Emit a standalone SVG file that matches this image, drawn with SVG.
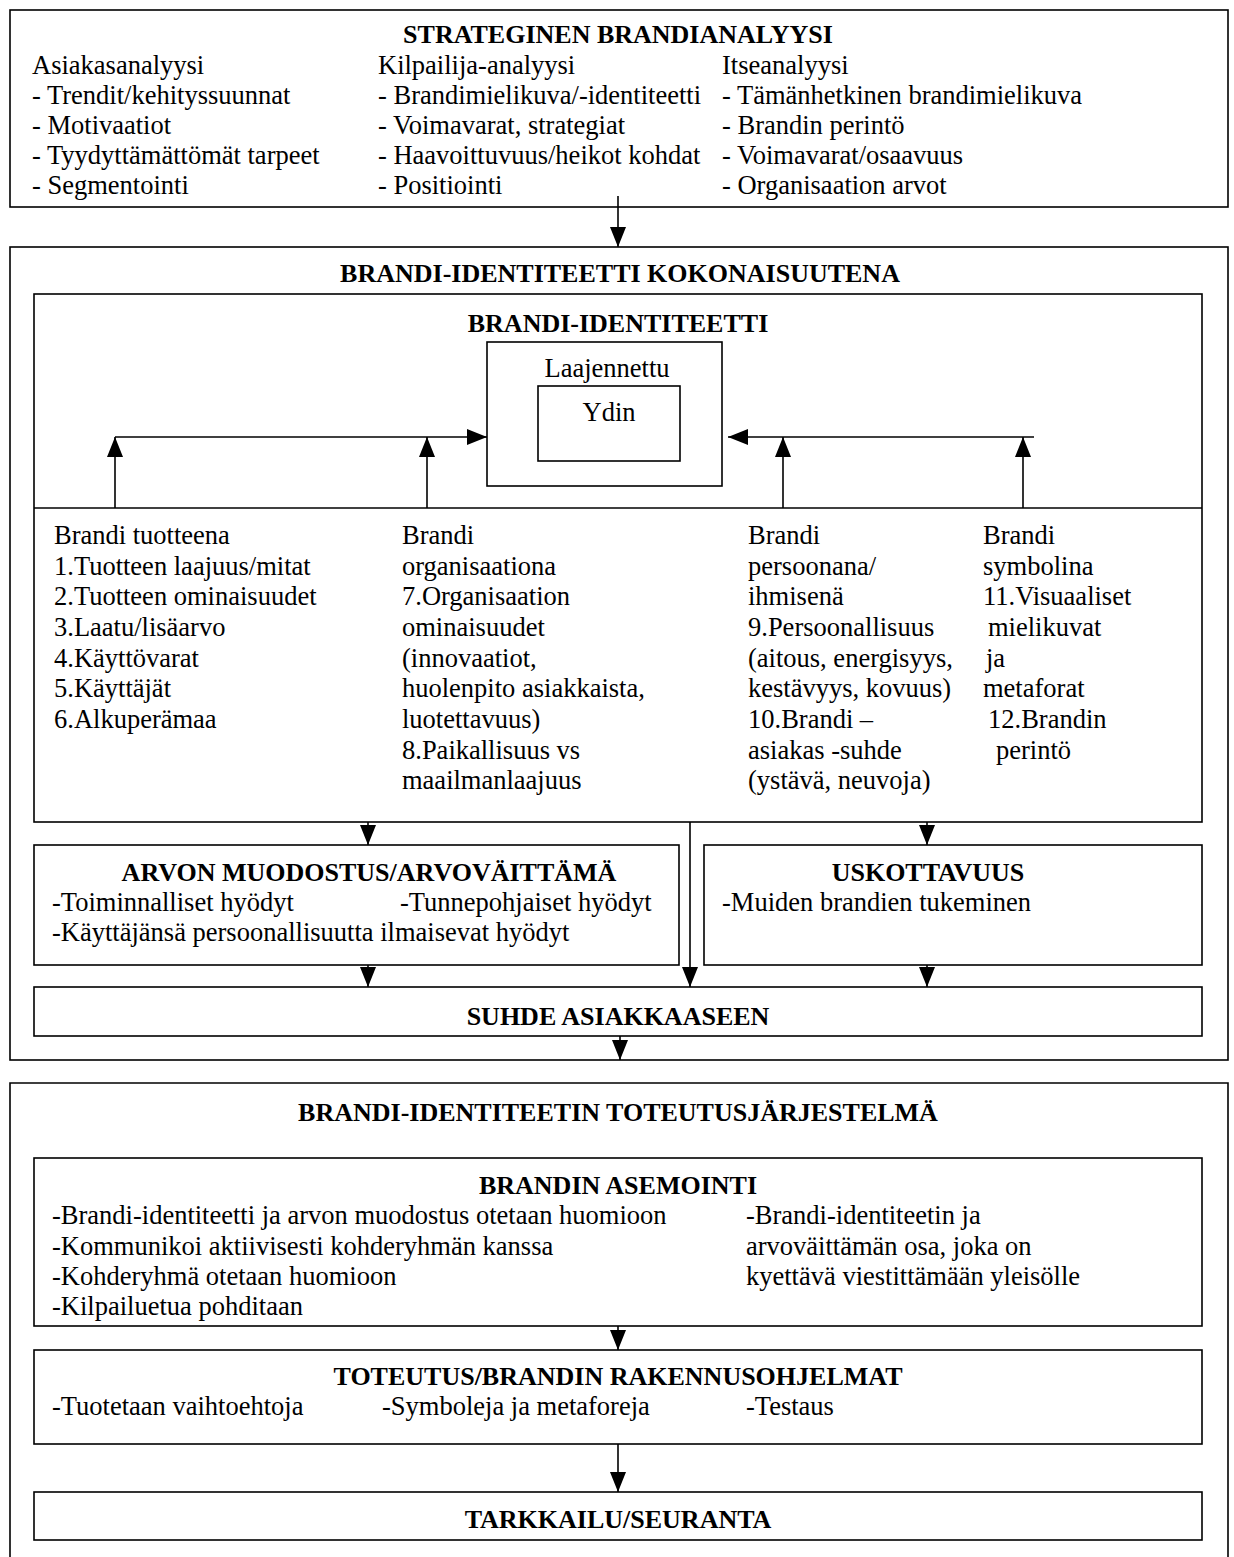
<svg xmlns="http://www.w3.org/2000/svg" width="1234" height="1557" viewBox="0 0 1234 1557">
<style>
.box{fill:none;stroke:#000;stroke-width:1.6}
.t{font-family:"Liberation Serif","Times New Roman",serif;font-size:26.5px;fill:#000}
.b{font-weight:bold;font-size:26px}
.c{text-anchor:middle}
.ln{stroke:#000;stroke-width:1.6;fill:none}
</style>
<defs>
<marker id="ah" viewBox="0 0 20 16" refX="20" refY="8" markerWidth="20" markerHeight="16" markerUnits="userSpaceOnUse" orient="auto"><path d="M0,0 L20,8 L0,16 Z" fill="#000"/></marker>
</defs>
<rect width="1234" height="1557" fill="#fff"/>

<g id="strateginen">
<rect class="box" x="10" y="10" width="1218" height="197"/>
<text class="t b c" x="618" y="43">STRATEGINEN BRANDIANALYYSI</text>
<text class="t" x="32" y="74">Asiakasanalyysi</text>
<text class="t" x="32" y="104">- Trendit/kehityssuunnat</text>
<text class="t" x="32" y="134">- Motivaatiot</text>
<text class="t" x="32" y="164">- Tyydyttämättömät tarpeet</text>
<text class="t" x="32" y="194">- Segmentointi</text>
<text class="t" x="378" y="74">Kilpailija-analyysi</text>
<text class="t" x="378" y="104">- Brandimielikuva/-identiteetti</text>
<text class="t" x="378" y="134">- Voimavarat, strategiat</text>
<text class="t" x="378" y="164">- Haavoittuvuus/heikot kohdat</text>
<text class="t" x="378" y="194">- Positiointi</text>
<text class="t" x="722" y="74">Itseanalyysi</text>
<text class="t" x="722" y="104">- Tämänhetkinen brandimielikuva</text>
<text class="t" x="722" y="134">- Brandin perintö</text>
<text class="t" x="722" y="164">- Voimavarat/osaavuus</text>
<text class="t" x="722" y="194">- Organisaation arvot</text>
</g>

<g id="kokonaisuutena">
<rect class="box" x="10" y="247" width="1218" height="813"/>
<text class="t b c" x="620" y="282">BRANDI-IDENTITEETTI KOKONAISUUTENA</text>
</g>

<g id="brandi-identiteetti">
<rect class="box" x="34" y="294" width="1168" height="528"/>
<line class="ln" x1="34" y1="508" x2="1202" y2="508"/>
<text class="t b c" x="618" y="332">BRANDI-IDENTITEETTI</text>
</g>

<g id="laajennettu">
<rect class="box" x="487" y="342" width="235" height="144"/>
<text class="t c" x="607" y="377">Laajennettu</text>
</g>

<g id="ydin">
<rect class="box" x="538" y="386" width="142" height="75"/>
<text class="t c" x="609" y="421">Ydin</text>
</g>

<g id="tuotteena">
<text class="t" x="54" y="544">Brandi tuotteena</text>
<text class="t" x="54" y="575">1.Tuotteen laajuus/mitat</text>
<text class="t" x="54" y="605">2.Tuotteen ominaisuudet</text>
<text class="t" x="54" y="636">3.Laatu/lisäarvo</text>
<text class="t" x="54" y="667">4.Käyttövarat</text>
<text class="t" x="54" y="697">5.Käyttäjät</text>
<text class="t" x="54" y="728">6.Alkuperämaa</text>
</g>

<g id="organisaationa">
<text class="t" x="402" y="544">Brandi</text>
<text class="t" x="402" y="575">organisaationa</text>
<text class="t" x="402" y="605">7.Organisaation</text>
<text class="t" x="402" y="636">ominaisuudet</text>
<text class="t" x="402" y="667">(innovaatiot,</text>
<text class="t" x="402" y="697">huolenpito asiakkaista,</text>
<text class="t" x="402" y="728">luotettavuus)</text>
<text class="t" x="402" y="759">8.Paikallisuus vs</text>
<text class="t" x="402" y="789">maailmanlaajuus</text>
</g>

<g id="persoonana">
<text class="t" x="748" y="544">Brandi</text>
<text class="t" x="748" y="575">persoonana/</text>
<text class="t" x="748" y="605">ihmisenä</text>
<text class="t" x="748" y="636">9.Persoonallisuus</text>
<text class="t" x="748" y="667">(aitous, energisyys,</text>
<text class="t" x="748" y="697">kestävyys, kovuus)</text>
<text class="t" x="748" y="728">10.Brandi –</text>
<text class="t" x="748" y="759">asiakas -suhde</text>
<text class="t" x="748" y="789">(ystävä, neuvoja)</text>
</g>

<g id="symbolina">
<text class="t" x="983" y="544">Brandi</text>
<text class="t" x="983" y="575">symbolina</text>
<text class="t" x="983" y="605">11.Visuaaliset</text>
<text class="t" x="988" y="636">mielikuvat</text>
<text class="t" x="986" y="667">ja</text>
<text class="t" x="983" y="697">metaforat</text>
<text class="t" x="988" y="728">12.Brandin</text>
<text class="t" x="996" y="759">perintö</text>
</g>

<g id="arvon-muodostus">
<rect class="box" x="34" y="845" width="645" height="120"/>
<text class="t b c" x="369" y="881">ARVON MUODOSTUS/ARVOVÄITTÄMÄ</text>
<text class="t" x="52" y="911">-Toiminnalliset hyödyt</text>
<text class="t" x="400" y="911">-Tunnepohjaiset hyödyt</text>
<text class="t" x="52" y="941">-Käyttäjänsä persoonallisuutta ilmaisevat hyödyt</text>
</g>

<g id="uskottavuus">
<rect class="box" x="704" y="845" width="498" height="120"/>
<text class="t b c" x="928" y="881">USKOTTAVUUS</text>
<text class="t" x="722" y="911">-Muiden brandien tukeminen</text>
</g>

<g id="suhde">
<rect class="box" x="34" y="987" width="1168" height="49"/>
<text class="t b c" x="618" y="1025">SUHDE ASIAKKAASEEN</text>
</g>

<g id="toteutusjarjestelma">
<path class="box" d="M10,1560 V1083 H1228 V1560"/>
<text class="t b c" x="618" y="1121">BRANDI-IDENTITEETIN TOTEUTUSJÄRJESTELMÄ</text>
</g>

<g id="asemointi">
<rect class="box" x="34" y="1158" width="1168" height="168"/>
<text class="t b c" x="618" y="1194">BRANDIN ASEMOINTI</text>
<text class="t" x="52" y="1224">-Brandi-identiteetti ja arvon muodostus otetaan huomioon</text>
<text class="t" x="52" y="1255">-Kommunikoi aktiivisesti kohderyhmän kanssa</text>
<text class="t" x="52" y="1285">-Kohderyhmä otetaan huomioon</text>
<text class="t" x="52" y="1315">-Kilpailuetua pohditaan</text>
<text class="t" x="746" y="1224">-Brandi-identiteetin ja</text>
<text class="t" x="746" y="1255">arvoväittämän osa, joka on</text>
<text class="t" x="746" y="1285">kyettävä viestittämään yleisölle</text>
</g>

<g id="toteutus">
<rect class="box" x="34" y="1350" width="1168" height="94"/>
<text class="t b c" x="618" y="1385">TOTEUTUS/BRANDIN RAKENNUSOHJELMAT</text>
<text class="t" x="52" y="1415">-Tuotetaan vaihtoehtoja</text>
<text class="t" x="382" y="1415">-Symboleja ja metaforeja</text>
<text class="t" x="746" y="1415">-Testaus</text>
</g>

<g id="tarkkailu">
<rect class="box" x="34" y="1492" width="1168" height="48"/>
<text class="t b c" x="618" y="1528">TARKKAILU/SEURANTA</text>
</g>

<g id="connectors">
<line class="ln" x1="618" y1="196" x2="618" y2="247" marker-end="url(#ah)"/>
<line class="ln" x1="115" y1="437" x2="487" y2="437" marker-end="url(#ah)"/>
<line class="ln" x1="115" y1="508" x2="115" y2="437" marker-end="url(#ah)"/>
<line class="ln" x1="427" y1="508" x2="427" y2="437" marker-end="url(#ah)"/>
<line class="ln" x1="1034" y1="437" x2="728" y2="437" marker-end="url(#ah)"/>
<line class="ln" x1="783" y1="508" x2="783" y2="437" marker-end="url(#ah)"/>
<line class="ln" x1="1023" y1="508" x2="1023" y2="437" marker-end="url(#ah)"/>
<line class="ln" x1="368" y1="822" x2="368" y2="845" marker-end="url(#ah)"/>
<line class="ln" x1="927" y1="822" x2="927" y2="845" marker-end="url(#ah)"/>
<line class="ln" x1="690" y1="822" x2="690" y2="987" marker-end="url(#ah)"/>
<line class="ln" x1="368" y1="965" x2="368" y2="987" marker-end="url(#ah)"/>
<line class="ln" x1="927" y1="965" x2="927" y2="987" marker-end="url(#ah)"/>
<line class="ln" x1="620" y1="1036" x2="620" y2="1060" marker-end="url(#ah)"/>
<line class="ln" x1="618" y1="1326" x2="618" y2="1350" marker-end="url(#ah)"/>
<line class="ln" x1="618" y1="1444" x2="618" y2="1492" marker-end="url(#ah)"/>
</g>
</svg>
